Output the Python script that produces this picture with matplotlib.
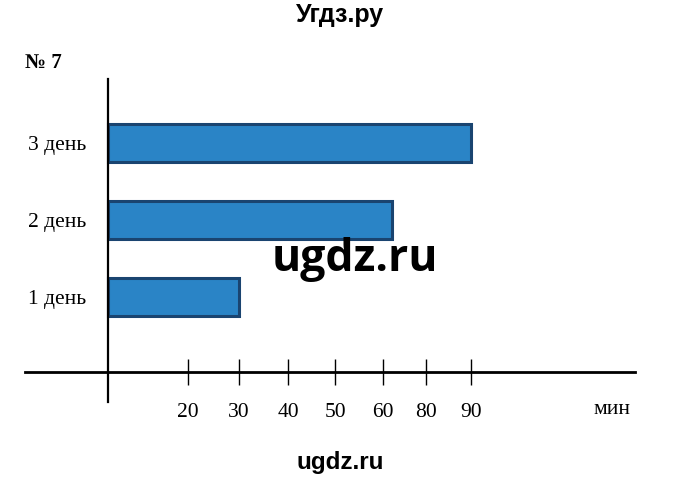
import numpy as np
import matplotlib.pyplot as plt

days = ["1 день", "2 день", "3 день"]
minutes = [30, 64, 90]
tick_values = [20, 30, 40, 50, 60, 80, 90]
tick_labels = ["20", "30", "40", "50", "60", "80", "90"]

# the printed axis is not to scale, so map minutes onto the drawn spacing
knot_min = [-27, 0, 20, 30, 40, 50, 60, 80, 90, 136.4]
knot_pos = [0, 108, 188, 239, 288, 335, 383, 426, 471, 680]


def fwd(v):
    return np.interp(v, knot_min, knot_pos)


def inv(p):
    return np.interp(p, knot_pos, knot_min)


def main():
    plt.rcParams['font.family'] = ['Liberation Serif', 'DejaVu Serif']

    fig = plt.figure(figsize=(6.8, 4.82), dpi=100)
    ax = fig.add_axes([0, 0, 1, 1])
    ax.set_xscale('function', functions=(fwd, inv))
    ax.set_xlim(-27, 136.4)
    # one category step = 77 px, first bar centred at 297 px from top
    ax.set_ylim(-185 / 77, 297 / 77)

    ax.barh(range(len(days)), minutes, height=0.49, color='#2a84c6',
            edgecolor='#1a4470', linewidth=2.2, zorder=2)

    ax.spines['top'].set_visible(False)
    ax.spines['right'].set_visible(False)
    ax.spines['bottom'].set_position(('data', -0.97))
    ax.spines['bottom'].set_bounds(-20.75, 126.4)
    ax.spines['bottom'].set_linewidth(2.0)
    ax.spines['left'].set_position(('data', 0))
    ax.spines['left'].set_bounds(-1.36, 2.83)
    ax.spines['left'].set_linewidth(1.6)

    ax.set_xticks(tick_values, tick_labels)
    ax.tick_params(axis='x', direction='inout', length=19, width=1.0,
                   pad=13, labelsize=15.5)
    ax.set_yticks(range(len(days)), days)
    ax.tick_params(axis='y', length=0, pad=16, labelsize=15.5)
    ax.minorticks_off()

    fig.text(612 / 680, 1 - 410 / 482, "мин", ha='center', va='center',
             fontsize=15.5)
    fig.text(25 / 680, 1 - 63 / 482, "№ 7", ha='left', va='center',
             fontsize=15, fontweight='bold')

    fig.text(0.5, 1 - 15 / 482, "Угдз.ру", ha='center', va='center',
             fontsize=18, fontweight='bold', family='Liberation Sans')
    fig.text(0.5, 1 - 463 / 482, "ugdz.ru", ha='center', va='center',
             fontsize=17.5, fontweight='bold', family='Liberation Sans')
    fig.text(355 / 680, 1 - 259 / 482, "ugdz.ru", ha='center', va='center',
             fontsize=32, fontweight='bold', family='Open Sans', zorder=5)

    fig.savefig("out.png", dpi=100)


if __name__ == "__main__":
    main()
